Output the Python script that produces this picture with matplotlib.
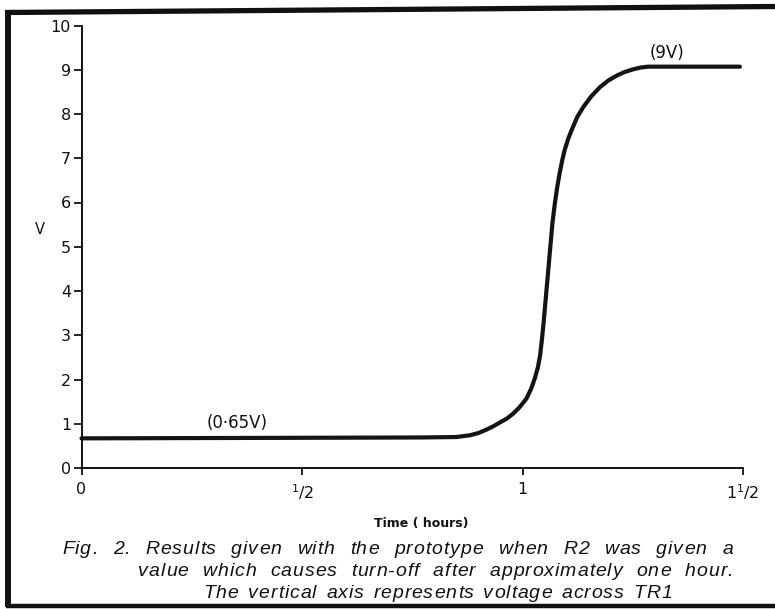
import matplotlib
matplotlib.use("Agg")
import matplotlib.pyplot as plt
from matplotlib.lines import Line2D

# ---- data ----
time_hours = [0.0, 0.40, 0.768, 0.85, 0.881, 0.90, 0.919, 0.935, 0.949,
              0.965, 0.979, 0.994, 1.009, 1.020, 1.028, 1.035, 1.040, 1.044,
              1.048, 1.052, 1.056, 1.060, 1.064, 1.068, 1.073, 1.078, 1.084,
              1.090, 1.096, 1.104, 1.112, 1.124, 1.138, 1.156, 1.176, 1.195,
              1.214, 1.232, 1.251, 1.268, 1.285, 1.493]
voltage = [0.67, 0.68, 0.69, 0.70, 0.74, 0.79, 0.87, 0.95, 1.03,
           1.12, 1.23, 1.38, 1.57, 1.80, 2.03, 2.28, 2.55, 2.90,
           3.30, 3.75, 4.20, 4.65, 5.10, 5.55, 5.95, 6.30, 6.65,
           6.95, 7.20, 7.45, 7.65, 7.93, 8.16, 8.40, 8.61, 8.76,
           8.87, 8.95, 9.01, 9.05, 9.07, 9.07]

y_ticks = [0, 1, 2, 3, 4, 5, 6, 7, 8, 9, 10]
y_tick_labels = ["0", "1", "2", "3", "4", "5", "6", "7", "8", "9", "10"]
x_ticks = [0, 0.5, 1.0, 1.5]
x_tick_labels = ["0", r"$\mathregular{^1/2}$", "1", r"$\mathregular{1^1/2}$"]

low_label = "(0·65V)"
high_label = "(9V)"
x_label = "Time ( hours)"
y_label = "V"
caption_lines = [
    "Fig. 2.  Results given with the prototype when R2 was given a",
    "value which causes turn-off after approximately one hour.",
    "The vertical axis represents voltage across TR1",
]

W, H = 775, 609
fig = plt.figure(figsize=(W / 100, H / 100), dpi=100)
fig.patch.set_facecolor("white")

def fx(px):
    return px / W

def fy(py):
    return 1 - py / H

# axes placement (pixel coords of the reference)
x0, x1 = 81.5, 743
y0, y1 = 468, 25.5
ax = fig.add_axes([fx(x0), fy(y0), (x1 - x0) / W, (y0 - y1) / H])
ax.set_xlim(0, 1.5)
ax.set_ylim(0, 10)
for s in ("top", "right"):
    ax.spines[s].set_visible(False)
for s in ("left", "bottom"):
    ax.spines[s].set_linewidth(1.4)
    ax.spines[s].set_color("#111111")

ax.plot(time_hours, voltage, color="#141414", lw=3.0, solid_capstyle="round",
        solid_joinstyle="round", clip_on=False)

ax.set_yticks(y_ticks)
ax.set_yticklabels(y_tick_labels, fontsize=11.5, family="DejaVu Sans")
ax.set_xticks(x_ticks)
ax.set_xticklabels(x_tick_labels, fontsize=11.5, family="DejaVu Sans")
ax.tick_params(axis="y", direction="out", length=6, width=1.3, pad=1.5,
               colors="#111111")
ax.tick_params(axis="x", direction="out", length=5, width=1.3, pad=5,
               colors="#111111")

ax.text(0.353, 1.02, low_label, fontsize=12, ha="center", va="center",
        family="DejaVu Sans", color="#111111")
ax.text(1.328, 9.37, high_label, fontsize=12, ha="center", va="center",
        family="DejaVu Sans", color="#111111")

# axis titles
fig.text(fx(40), fy(229), y_label, fontsize=10.5, ha="center", va="center",
         family="DejaVu Sans", color="#111111")
fig.text(fx(421), fy(523), x_label, fontsize=9, ha="center", va="center",
         family="DejaVu Sans", fontweight="bold", color="#111111")

# caption: letter-spaced, justified word by word
renderer = fig.canvas.get_renderer()
cap_specs = [(62, 733, 550), (138, 733, 572), (203, 672, 593)]
cap_font = dict(fontsize=14, family="Liberation Sans", style="italic",
                color="#111111")
tracking = 0.9

def text_width(s):
    t = fig.text(0, 0, s, **cap_font)
    w = t.get_window_extent(renderer).width
    t.remove()
    return w

char_w = {}
for line in caption_lines:
    for ch in line:
        if ch != " " and ch not in char_w:
            char_w[ch] = text_width(ch)

for line, (left, right, yc) in zip(caption_lines, cap_specs):
    words = line.split()
    widths = [sum(char_w[c] for c in w) + tracking * (len(w) - 1) for w in words]
    gap = (right - left - sum(widths)) / max(len(words) - 1, 1)
    x = left
    for w, wd in zip(words, widths):
        cx = x
        for c in w:
            fig.text(fx(cx), fy(yc), c, ha="left", va="center", **cap_font)
            cx += char_w[c] + tracking
        x += wd + gap

# scanned frame
frame = dict(color="#111111", solid_capstyle="butt")
fig.add_artist(Line2D([fx(5), fx(775)], [fy(12.5), fy(6.5)], lw=3.8,
                      transform=fig.transFigure, **frame))
fig.add_artist(Line2D([fx(8), fx(8)], [fy(10.5), fy(607)], lw=4.3,
                      transform=fig.transFigure, **frame))
fig.add_artist(Line2D([fx(6), fx(775)], [fy(605.5), fy(605.5)], lw=3.2,
                      transform=fig.transFigure, **frame))

fig.savefig("out.png", dpi=100, facecolor="white")
